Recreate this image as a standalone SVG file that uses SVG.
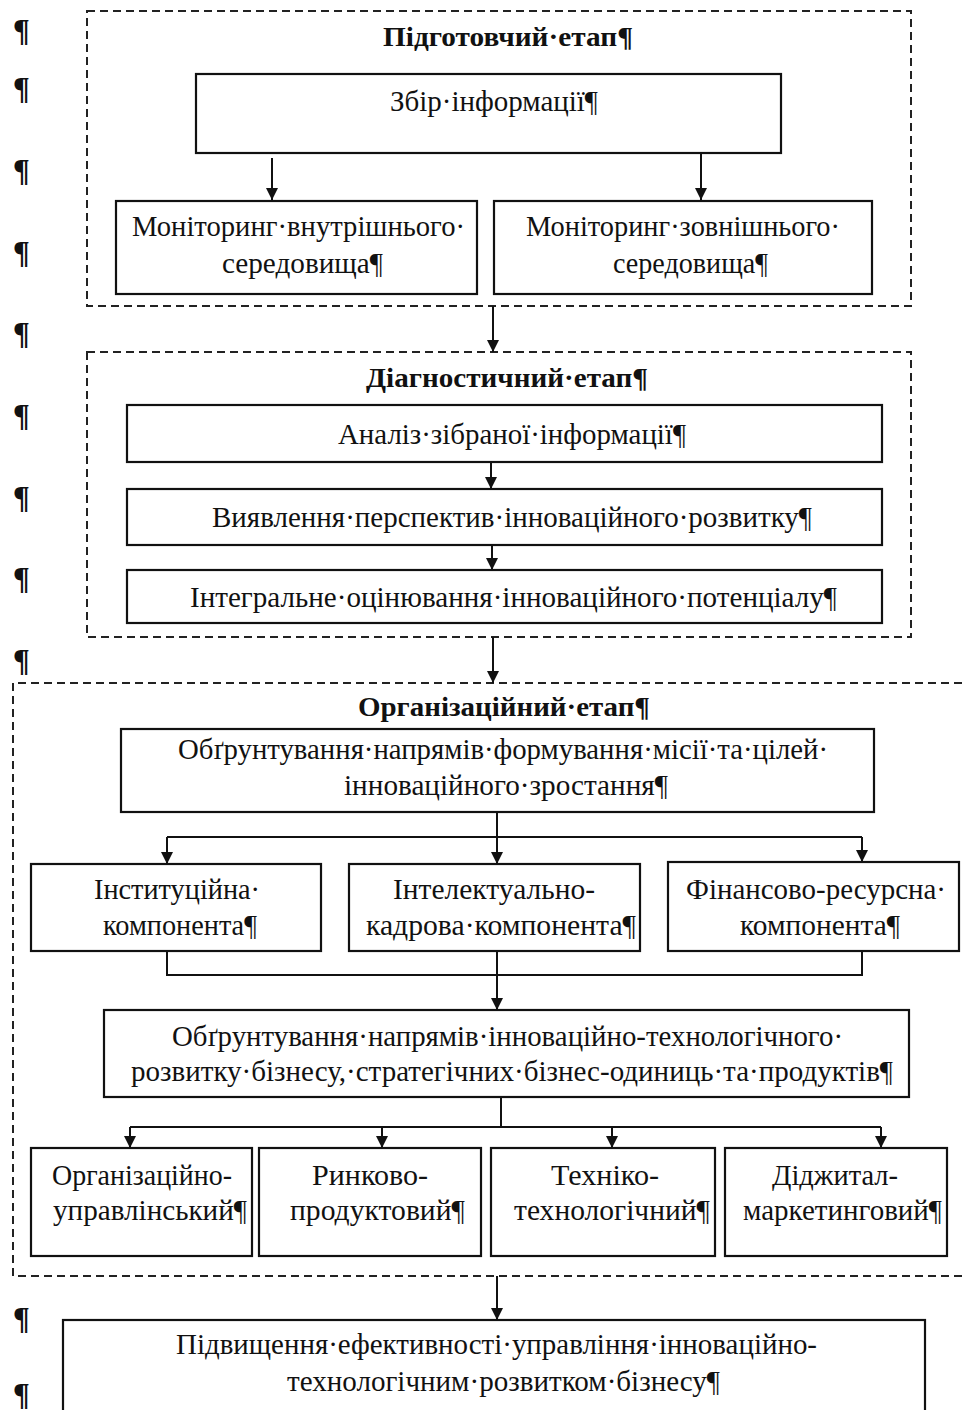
<svg xmlns="http://www.w3.org/2000/svg" width="967" height="1410" viewBox="0 0 967 1410">
<style>
.t{font-family:"Liberation Serif","Times New Roman",serif;font-size:29px;fill:#111}
.h{font-family:"Liberation Serif","Times New Roman",serif;font-size:28px;font-weight:bold;fill:#111}
.p{font-family:"Liberation Serif","Times New Roman",serif;font-size:31px;font-weight:bold;fill:#111}
.box{fill:#fff;stroke:#111;stroke-width:2.2}
.stage{fill:none;stroke:#222;stroke-width:2;stroke-dasharray:8 5}
.ln{fill:none;stroke:#111;stroke-width:2}
</style>
<defs>
<marker id="ad" viewBox="0 0 12 12" refX="12" refY="6" markerWidth="14" markerHeight="12" markerUnits="userSpaceOnUse" orient="auto">
<path d="M0,0 L12,6 L0,12 Z" fill="#111"/>
</marker>
</defs>
<rect width="967" height="1410" fill="#fff"/>

<g id="pilcrows">
<text class="p" x="13" y="41">¶</text>
<text class="p" x="13" y="99">¶</text>
<text class="p" x="13" y="181">¶</text>
<text class="p" x="13" y="263">¶</text>
<text class="p" x="13" y="344">¶</text>
<text class="p" x="13" y="426">¶</text>
<text class="p" x="13" y="508">¶</text>
<text class="p" x="13" y="589">¶</text>
<text class="p" x="13" y="671">¶</text>
<text class="p" x="13" y="1329">¶</text>
<text class="p" x="13" y="1405">¶</text>
</g>

<g id="stage1">
<rect class="stage" x="87" y="11" width="824" height="295"/>
<text class="h" x="383" y="46" textLength="250" lengthAdjust="spacingAndGlyphs">Підготовчий·етап¶</text>
</g>
<g id="stage2">
<rect class="stage" x="87" y="352" width="824" height="285"/>
<text class="h" x="366" y="387" textLength="282" lengthAdjust="spacingAndGlyphs">Діагностичний·етап¶</text>
</g>
<g id="stage3">
<path class="stage" d="M975,683 L13,683 L13,1276 L975,1276"/>
<text class="h" x="358" y="716" textLength="292" lengthAdjust="spacingAndGlyphs">Організаційний·етап¶</text>
</g>

<g id="connectors">
<line class="ln" x1="272" y1="158" x2="272" y2="200" marker-end="url(#ad)"/>
<line class="ln" x1="701" y1="153" x2="701" y2="200" marker-end="url(#ad)"/>
<line class="ln" x1="493" y1="306" x2="493" y2="352" marker-end="url(#ad)"/>
<line class="ln" x1="491" y1="462" x2="491" y2="489" marker-end="url(#ad)"/>
<line class="ln" x1="492" y1="545" x2="492" y2="570" marker-end="url(#ad)"/>
<line class="ln" x1="493" y1="637" x2="493" y2="683" marker-end="url(#ad)"/>
<path class="ln" d="M497,812 L497,837 M167,837 L862,837"/>
<line class="ln" x1="167" y1="837" x2="167" y2="864" marker-end="url(#ad)"/>
<line class="ln" x1="497" y1="837" x2="497" y2="864" marker-end="url(#ad)"/>
<line class="ln" x1="862" y1="837" x2="862" y2="862" marker-end="url(#ad)"/>
<path class="ln" d="M167,951 L167,975 L862,975 L862,951"/>
<line class="ln" x1="497" y1="951" x2="497" y2="1010" marker-end="url(#ad)"/>
<path class="ln" d="M501,1097 L501,1127 M130,1127 L881,1127"/>
<line class="ln" x1="130" y1="1127" x2="130" y2="1148" marker-end="url(#ad)"/>
<line class="ln" x1="382" y1="1127" x2="382" y2="1148" marker-end="url(#ad)"/>
<line class="ln" x1="612" y1="1127" x2="612" y2="1148" marker-end="url(#ad)"/>
<line class="ln" x1="881" y1="1127" x2="881" y2="1148" marker-end="url(#ad)"/>
<line class="ln" x1="497" y1="1276" x2="497" y2="1320" marker-end="url(#ad)"/>
</g>

<g id="n-zbir">
<rect class="box" x="196" y="74" width="585" height="79"/>
<text class="t" x="390" y="111" textLength="208" lengthAdjust="spacingAndGlyphs">Збір·інформації¶</text>
</g>
<g id="n-mon-int">
<rect class="box" x="116" y="201" width="361" height="93"/>
<text class="t" x="132" y="236" textLength="333" lengthAdjust="spacingAndGlyphs">Моніторинг·внутрішнього·</text>
<text class="t" x="222" y="273" textLength="161" lengthAdjust="spacingAndGlyphs">середовища¶</text>
</g>
<g id="n-mon-ext">
<rect class="box" x="494" y="201" width="378" height="93"/>
<text class="t" x="526" y="236" textLength="314" lengthAdjust="spacingAndGlyphs">Моніторинг·зовнішнього·</text>
<text class="t" x="613" y="273" textLength="155" lengthAdjust="spacingAndGlyphs">середовища¶</text>
</g>
<g id="n-analiz">
<rect class="box" x="127" y="405" width="755" height="57"/>
<text class="t" x="338" y="444" textLength="348" lengthAdjust="spacingAndGlyphs">Аналіз·зібраної·інформації¶</text>
</g>
<g id="n-vyyav">
<rect class="box" x="127" y="489" width="755" height="56"/>
<text class="t" x="212" y="527" textLength="600" lengthAdjust="spacingAndGlyphs">Виявлення·перспектив·інноваційного·розвитку¶</text>
</g>
<g id="n-integr">
<rect class="box" x="127" y="570" width="755" height="53"/>
<text class="t" x="190" y="607" textLength="647" lengthAdjust="spacingAndGlyphs">Інтегральне·оцінювання·інноваційного·потенціалу¶</text>
</g>
<g id="n-obgr1">
<rect class="box" x="121" y="729" width="753" height="83"/>
<text class="t" x="178" y="759" textLength="650" lengthAdjust="spacingAndGlyphs">Обґрунтування·напрямів·формування·місії·та·цілей·</text>
<text class="t" x="344" y="795" textLength="324" lengthAdjust="spacingAndGlyphs">інноваційного·зростання¶</text>
</g>
<g id="n-inst">
<rect class="box" x="31" y="864" width="290" height="87"/>
<text class="t" x="94" y="899" textLength="166" lengthAdjust="spacingAndGlyphs">Інституційна·</text>
<text class="t" x="103" y="935" textLength="154" lengthAdjust="spacingAndGlyphs">компонента¶</text>
</g>
<g id="n-intel">
<rect class="box" x="349" y="864" width="291" height="87"/>
<text class="t" x="393" y="899" textLength="202" lengthAdjust="spacingAndGlyphs">Інтелектуально-</text>
<text class="t" x="366" y="935" textLength="270" lengthAdjust="spacingAndGlyphs">кадрова·компонента¶</text>
</g>
<g id="n-fin">
<rect class="box" x="668" y="862" width="291" height="89"/>
<text class="t" x="686" y="899" textLength="260" lengthAdjust="spacingAndGlyphs">Фінансово-ресурсна·</text>
<text class="t" x="740" y="935" textLength="160" lengthAdjust="spacingAndGlyphs">компонента¶</text>
</g>
<g id="n-obgr2">
<rect class="box" x="104" y="1010" width="805" height="87"/>
<text class="t" x="172" y="1046" textLength="671" lengthAdjust="spacingAndGlyphs">Обґрунтування·напрямів·інноваційно-технологічного·</text>
<text class="t" x="131" y="1081" textLength="762" lengthAdjust="spacingAndGlyphs">розвитку·бізнесу,·стратегічних·бізнес-одиниць·та·продуктів¶</text>
</g>
<g id="n-org">
<rect class="box" x="31" y="1148" width="221" height="108"/>
<text class="t" x="52" y="1185" textLength="180" lengthAdjust="spacingAndGlyphs">Організаційно-</text>
<text class="t" x="53" y="1220" textLength="194" lengthAdjust="spacingAndGlyphs">управлінський¶</text>
</g>
<g id="n-rynk">
<rect class="box" x="259" y="1148" width="222" height="108"/>
<text class="t" x="312" y="1185" textLength="116" lengthAdjust="spacingAndGlyphs">Ринково-</text>
<text class="t" x="290" y="1220" textLength="175" lengthAdjust="spacingAndGlyphs">продуктовий¶</text>
</g>
<g id="n-tekh">
<rect class="box" x="491" y="1148" width="224" height="108"/>
<text class="t" x="551" y="1185" textLength="108" lengthAdjust="spacingAndGlyphs">Техніко-</text>
<text class="t" x="514" y="1220" textLength="196" lengthAdjust="spacingAndGlyphs">технологічний¶</text>
</g>
<g id="n-didzh">
<rect class="box" x="725" y="1148" width="222" height="108"/>
<text class="t" x="772" y="1185" textLength="126" lengthAdjust="spacingAndGlyphs">Діджитал-</text>
<text class="t" x="743" y="1220" textLength="199" lengthAdjust="spacingAndGlyphs">маркетинговий¶</text>
</g>
<g id="n-final">
<rect class="box" x="63" y="1320" width="862" height="110"/>
<text class="t" x="176" y="1354" textLength="641" lengthAdjust="spacingAndGlyphs">Підвищення·ефективності·управління·інноваційно-</text>
<text class="t" x="287" y="1391" textLength="433" lengthAdjust="spacingAndGlyphs">технологічним·розвитком·бізнесу¶</text>
</g>
</svg>
